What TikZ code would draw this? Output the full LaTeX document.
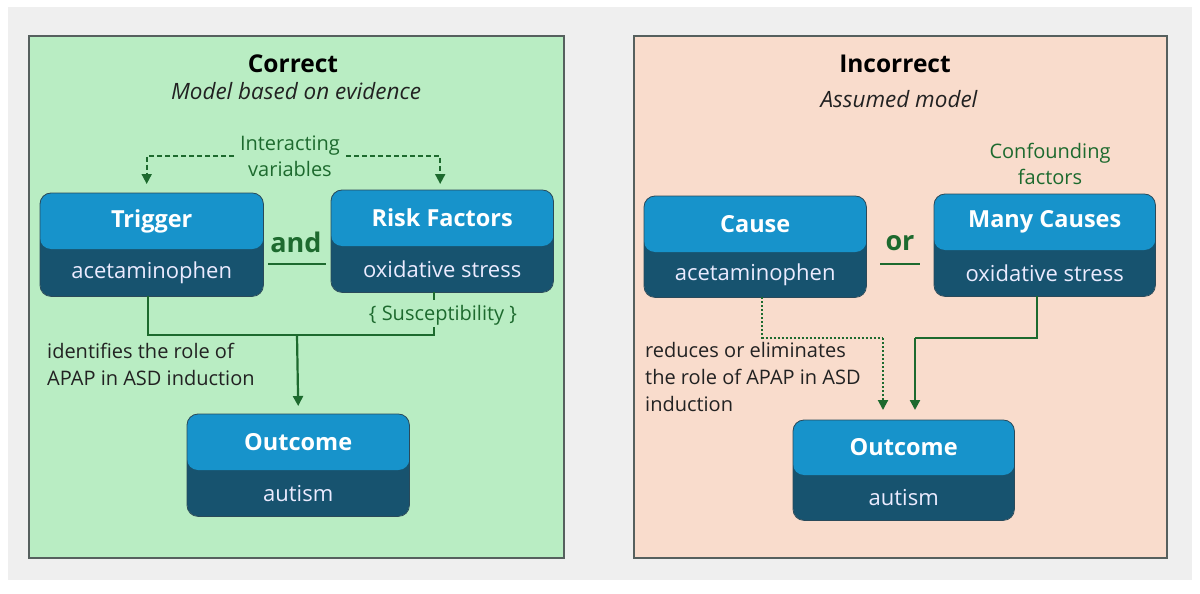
\documentclass[tikz,border=0pt]{standalone}
\usepackage{fontspec}
\setmainfont{Open Sans}
\usetikzlibrary{arrows.meta,calc}
\definecolor{lblue}{HTML}{1793CB}
\definecolor{dblue}{HTML}{17536F}
\definecolor{bedge}{HTML}{2A4A5A}
\definecolor{gline}{HTML}{1D6A2E}
\definecolor{gfill}{HTML}{B9EDC3}
\definecolor{pfill}{HTML}{F9DCCC}
\definecolor{pedge}{HTML}{56605E}
\definecolor{bgray}{HTML}{EFEFEF}
\definecolor{txt}{HTML}{222222}
\tikzset{
  panel/.style={draw=pedge, line width=1.3pt},
  boxbg/.style={fill=dblue, rounded corners=11pt, draw=none, inner sep=0pt},
  boxedge/.style={draw=bedge, line width=0.8pt, rounded corners=11pt},
  ttl/.style={text=white, font=\fontsize{23.5}{26}\selectfont\bfseries, inner sep=0pt},
  sub/.style={text=white!92!blue, font=\fontsize{22}{24}\selectfont, inner sep=0pt},
  glab/.style={text=gline, font=\fontsize{20}{26}\selectfont, align=center, inner sep=0pt},
  blab/.style={text=txt, font=\fontsize{20}{27}\selectfont, align=left, inner sep=0pt, anchor=north west},
  conn/.style={draw=gline, line width=2.2pt},
  tip/.style={-{Triangle[length=10pt,width=10pt]}},
  dashconn/.style={draw=gline, line width=1.8pt, dash pattern=on 5pt off 3pt},
  dotconn/.style={draw=gline, line width=2pt, dash pattern=on 2pt off 2pt},
  head/.style={text=black, font=\fontsize{24.5}{26}\selectfont\bfseries, inner sep=0pt},
  subhead/.style={text=txt, font=\fontsize{22.5}{24}\selectfont\itshape, inner sep=0pt},
  conj/.style={text=gline, font=\fontsize{27}{28}\selectfont\bfseries, inner sep=0pt},
}
\begin{document}
\begin{tikzpicture}[x=1pt,y=-1pt]
\useasboundingbox (0,0) rectangle (1200,594);
\fill[white] (0,0) rectangle (1200,594);
\fill[bgray] (8,7) rectangle (1192,580);
% panels
\path[panel, fill=gfill] (29,36) rectangle (564,558);
\path[panel, fill=pfill] (634,36) rectangle (1167,558);
\node[head] (hc) at (293,64) {Correct};
\node[subhead] (sc) at (296,91) {Model based on evidence};
\node[head] (hi) at (895,64) {Incorrect};
\node[subhead] (si) at (899,99) {Assumed model};

% generic two-tone box drawing
\newcommand{\tbox}[8]{% name, left, top, right, bottom, split, title, sub
  \node[boxbg, anchor=north west, minimum width=#4pt-#2pt, minimum height=#5pt-#3pt] (#1) at (#2,#3) {};
  \fill[lblue, rounded corners=11pt] (#1.north west) rectangle ($(#1.north east)+(0,#6-#3)$);
  \draw[boxedge] (#1.north west) rectangle (#1.south east);
  \node[ttl] (#1t) at ($(#1.north)+(0,#6/2-#3/2)$) {#7};
  \node[sub] (#1s) at ($(#1.south)+(0,#6/2-#5/2)$) {#8};
}
% left panel
\tbox{trig}{40}{193}{263}{296}{249}{Trigger}{acetaminophen}
\tbox{risk}{331}{190}{553}{292}{246}{Risk Factors}{oxidative stress}
\tbox{outL}{187}{414}{409}{516}{470}{Outcome}{autism}
\node[conj] (and) at (296,242) {and};
\draw[gline, line width=2.4pt] (268,264) -- (326,264);

\node[glab] (iv) at (290,156) {Interacting\\variables};
\coordinate (ivl) at (234,156);
\coordinate (ivr) at (346,156);
\draw[dashconn, tip] (ivl) -| ($(trig.north)+(-5,-9)$);
\draw[dashconn, tip] (ivr) -| ($(risk.north)+(-2,-6)$);

\coordinate (jL) at (297,335);
\draw[conn] ($(trig.south)+(-4,0)$) |- (jL);
\draw[conn] ($(risk.south)+(-8,0)$) -- ($(risk.south)+(-8,8)$);
\node[glab] (sus) at (443,315) {\{ Susceptibility \}};
\draw[conn] ($(risk.south)+(-8,35)$) |- (jL);
\draw[conn, tip] (jL) -- ($(outL.north)+(0,-8)$);
\node[blab] (idl) at (47,343) {identifies the role of\\APAP in ASD induction};

% right panel
\tbox{cause}{644}{196}{866}{297}{252}{Cause}{acetaminophen}
\tbox{many}{934}{194}{1155}{296}{250}{Many Causes}{oxidative stress}
\tbox{outR}{793}{420}{1014}{520}{475}{Outcome}{autism}
\node[conj] (or) at (900,243) {or};
\draw[gline, line width=2.4pt] (880,264) -- (920,264);
\node[glab] (cf) at (1050,164) {Confounding\\factors};

\coordinate (jd) at (883,338);
\coordinate (js) at (915,338);
\draw[dotconn] ($(cause.south)+(7,0)$) |- (jd);
\draw[dotconn, tip] (jd) -- (883,410);
\draw[conn] ($(many.south)+(-8,0)$) |- (js);
\draw[conn, tip] (js) -- (915,410);
\node[blab] (red) at (645,342) {reduces or eliminates\\the role of APAP in ASD\\induction};
\end{tikzpicture}
\end{document}
